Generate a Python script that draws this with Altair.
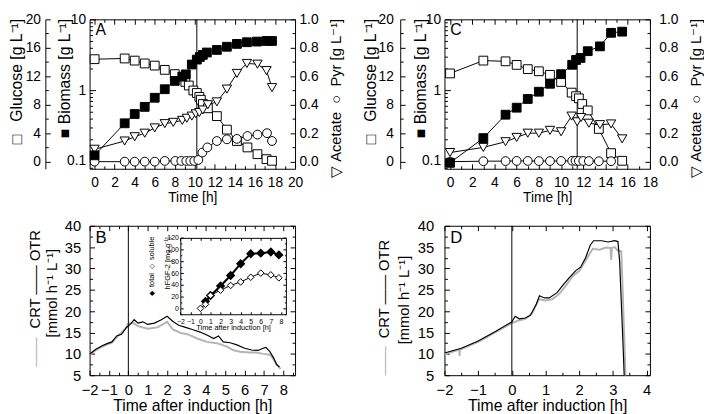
import altair as alt
import pandas as pd

# ---------------- Panel A (left batch) ----------------
A_glc_t = [0, 3, 4, 5, 6, 7, 8, 9.05, 9.4, 9.85, 10.2, 10.45, 10.6, 10.8, 11.3, 12.2, 13.2, 14.2, 15.25, 16.25, 17.15, 17.7]
A_glc = [14.4, 14.5, 14.2, 13.8, 13.5, 12.9, 12.3, 11.2, 10.7, 10.0, 9.65, 9.1, 8.7, 8.1, 7.5, 6.4, 4.5, 2.9, 2.0, 1.05, 0.35, 0.12]
A_bio_t = [0, 3, 4, 5, 6, 7, 8, 8.75, 9.1, 9.7, 10.2, 10.5, 10.8, 11.2, 12.2, 13.2, 14.2, 15.2, 16.2, 17.15, 17.7]
A_bio = [0.12, 0.34, 0.46, 0.58, 0.78, 1.03, 1.35, 1.55, 1.67, 2.3, 2.7, 2.94, 3.15, 3.4, 3.7, 4.1, 4.5, 4.75, 4.85, 4.95, 4.95]
A_ace_t = [0, 3, 4, 5, 6, 7, 7.85, 8.75, 9.2, 9.7, 10.1, 10.45, 10.8, 11.3, 12.2, 13.2, 14.2, 15.2, 16.25, 17.15, 17.7]
A_ace = [0.087, 0.145, 0.175, 0.2, 0.237, 0.267, 0.276, 0.29, 0.305, 0.32, 0.336, 0.345, 0.363, 0.40, 0.42, 0.51, 0.62, 0.69, 0.685, 0.64, 0.52]
A_pyr_t = [0, 3, 4, 5, 6, 7, 8.05, 8.65, 9.15, 9.55, 9.95, 10.35, 10.75, 11.25, 12.2, 13.2, 14.2, 15.25, 16.25, 17.2, 17.7]
A_pyr = [0, 0, 0, 0, 0, 0.005, 0.005, 0.005, 0.005, 0.005, 0.005, 0.012, 0.064, 0.10, 0.145, 0.157, 0.16, 0.18, 0.19, 0.20, 0.145]
A_induction = [10.2]

# ---------------- Panel C (right batch) ----------------
C_glc_t = [0, 3, 5, 6, 7, 8, 9, 10, 10.95, 11.35, 11.6, 11.9, 12.4, 13.4, 14.5, 15.5]
C_glc = [12.4, 14.2, 14.1, 13.6, 13.0, 12.7, 12.2, 11.2, 9.7, 9.2, 8.9, 8.1, 7.2, 4.6, 1.2, 0.12]
C_bio_t = [0, 3, 5, 6, 7, 8, 9, 10, 11, 11.35, 11.75, 12.4, 13.5, 14.5, 15.5]
C_bio = [0.094, 0.21, 0.45, 0.565, 0.75, 0.95, 1.23, 1.68, 2.28, 2.67, 2.85, 3.55, 4.15, 6.45, 6.7]
C_ace_t = [0, 3, 5, 6, 7, 8, 9, 10, 10.95, 11.45, 11.8, 12.5, 13.5, 14.5, 15.5]
C_ace = [0.064, 0.1, 0.14, 0.17, 0.2, 0.2, 0.22, 0.21, 0.32, 0.28, 0.31, 0.27, 0.26, 0.265, 0.16]
C_pyr_t = [0, 3, 5, 6, 7, 8, 9, 10, 11, 11.3, 11.6, 12.0, 12.5, 13.4, 14.5]
C_pyr = [0, 0.003, 0.004, 0.005, 0.005, 0.004, 0.004, 0.005, 0.006, 0.006, 0.005, 0.005, 0.004, 0.003, 0.003]
C_induction = [11.45]

# ---------------- Panel B (rates, left batch) ----------------
B_otr_t = [-2, -1.7, -1.35, -1.1, -0.85, -0.6, -0.35, -0.1, 0, 0.15, 0.3, 0.5, 0.75, 1.0, 1.35, 1.7, 2.0, 2.3, 2.6, 2.95, 3.3, 3.7, 4.05, 4.4, 4.65, 4.9, 5.25, 5.6, 6.0, 6.35, 6.7, 6.95, 7.1, 7.3, 7.5, 7.65, 7.8]
B_otr = [9.9, 11.0, 11.9, 12.4, 12.8, 14.2, 14.6, 16.2, 16.5, 17.2, 18.0, 17.2, 17.5, 16.9, 17.2, 18.0, 18.8, 17.6, 16.7, 16.2, 15.7, 15.1, 14.4, 13.6, 14.2, 12.8, 12.6, 12.1, 11.3, 10.9, 10.8, 11.3, 11.5, 10.5, 9.0, 7.5, 6.9]
B_crt_t = [-2, -1.7, -1.35, -1.1, -0.85, -0.5, -0.15, 0, 0.25, 0.5, 1.0, 1.5, 2.0, 2.3, 2.7, 3.05, 3.55, 4.05, 4.55, 5.1, 5.4, 5.75, 6.25, 6.6, 6.95, 7.3, 7.45, 7.65, 7.85]
B_crt = [9.8, 10.8, 11.7, 12.2, 12.6, 14.4, 15.9, 17.1, 17.2, 16.5, 15.9, 16.2, 17.5, 15.7, 14.9, 14.6, 13.6, 12.8, 12.5, 11.7, 10.9, 10.5, 10.3, 10.3, 10.0, 9.8, 9.0, 7.5, 6.5]
B_tot_t = [0.5, 1, 2, 3, 4, 5, 6, 7, 7.8]
B_tot = [12, 22, 38, 56, 76, 93, 94, 96, 91]
B_sol_t = [0, 0.5, 1, 2, 3, 4, 5, 6, 7, 7.8]
B_sol = [0, 7, 22, 31, 39, 45, 53, 60, 57, 52]

# ---------------- Panel D (rates, right batch) ----------------
D_otr_t = [-2, -1.5, -1, -0.5, 0, 0.1, 0.22, 0.4, 0.55, 0.73, 0.82, 0.97, 1.11, 1.35, 1.5, 1.7, 1.9, 2.04, 2.19, 2.33, 2.43, 2.67, 2.86, 3.05, 3.15, 3.2, 3.3, 3.34]
D_otr = [10.2, 11.3, 13.0, 15.2, 17.5, 18.8, 18.2, 18.4, 19.0, 21.7, 23.6, 23.1, 23.1, 24.4, 25.9, 27.8, 29.5, 30.3, 32.5, 35.5, 36.5, 36.5, 36.2, 36.5, 36.3, 31.7, 12.5, 4.0]
D_crt_t = [-2, -1.56, -1.55, -1.54, -1, -0.5, 0, 0.2, 0.4, 0.6, 0.8, 1.0, 1.2, 1.4, 1.6, 1.8, 2.0, 2.2, 2.4, 2.6, 2.8, 2.93, 2.95, 2.97, 3.05, 3.15, 3.25, 3.38]
D_crt = [9.9, 11.0, 9.5, 11.0, 12.8, 15.0, 17.2, 17.8, 18.2, 19.5, 22.8, 22.5, 22.8, 24.0, 25.9, 28.2, 29.4, 32.0, 34.6, 34.4, 34.9, 34.8, 32.0, 34.8, 35.0, 34.2, 34.0, 4.0]
B_induction = [0]
D_induction = [0]

# ---------------- tick labels ----------------
A_x_labels = list(range(0, 21, 2))
A_x_minor = list(range(0, 21))
C_x_labels = list(range(0, 19, 2))
C_x_minor = list(range(0, 19))
glucose_labels = [0, 4, 8, 12, 16, 20]
glucose_minor = list(range(0, 21, 2))
biomass_labels = [0.1, 1, 10]
biomass_minor = [0.08, 0.09] + [i / 10 for i in range(1, 10)] + list(range(1, 10)) + [10]
right_labels = [0.0, 0.2, 0.4, 0.6, 0.8, 1.0]
right_minor = [i / 10 for i in range(0, 11)]
rate_labels = [5, 10, 15, 20, 25, 30, 35, 40]
rate_minor = [5 + 2.5 * i for i in range(15)]
B_x_labels = list(range(-2, 9))
B_x_minor = [-2 + 0.5 * i for i in range(22)]
D_x_labels = list(range(-2, 5))
D_x_minor = [-2 + 0.5 * i for i in range(13)]
inset_x_labels = list(range(-2, 9))
inset_y_labels = list(range(0, 121, 20))
inset_y_minor = list(range(-10, 121, 10))

FONT = "Liberation Sans"
BLACK = "black"
GRAY = "#b4b4b4"
W, H = 209, 152
NB = "\u00a0"
SUP = "\u207b\u00b9"


def tick_axis(orient, offset, values, test=None, major=5, minor=3, domain=False):
    size = major if test is None else {"condition": {"test": test, "value": major}, "value": minor}
    return alt.Axis(orient=orient, offset=offset, values=values, labels=False, domain=domain,
                    domainColor=BLACK, ticks=True, tickSize=size, tickColor=BLACK, tickWidth=1,
                    grid=False, title=None)


def ghost_title_axis(text, tx, ty, align, color=BLACK, size=15, offset=0):
    return alt.Axis(orient="left", offset=offset, labels=False, ticks=False, domain=False, grid=False,
                    title=text, titleX=tx, titleY=ty, titleAngle=270, titleAlign=align,
                    titleBaseline="middle", titleColor=color, titleFontSize=size)


def growth_panel(letter, xdom, xlabels, xminor, induction, glc_t, glc, bio_t, bio, ace_t, ace, pyr_t, pyr,
                 gpad, bpad, rpad, gtx, btx, rtx):
    xs = alt.Scale(domain=xdom, nice=False, zero=False)
    sg = alt.Scale(domain=[-1, 20], nice=False, zero=False)
    sb = alt.Scale(type="log", domain=[0.0775, 10], nice=False)
    sr = alt.Scale(domain=[-0.05, 1.0], nice=False, zero=False)

    def X(axis):
        return alt.X("t:Q", scale=xs, axis=axis)

    d_glc = pd.DataFrame({"t": glc_t, "v": glc})
    d_bio = pd.DataFrame({"t": bio_t, "v": bio})
    d_ace = pd.DataFrame({"t": ace_t, "v": ace})
    d_pyr = pd.DataFrame({"t": pyr_t, "v": pyr})

    x_lab = alt.Axis(orient="bottom", values=xlabels, ticks=False, domain=False, labelPadding=7,
                     title="Time [h]", titlePadding=1, format="d", labelFlush=False)
    even = "datum.value % 2 === 0"
    x_bot = tick_axis("top", -H, xminor, even, 5, 3)
    x_top = tick_axis("bottom", -H, xminor, even, 5, 3)

    g_lab = alt.Axis(orient="left", offset=45, values=glucose_labels, ticks=False, domain=True,
                     domainColor=BLACK, labelPadding=gpad,
                     title="\u25a1" + NB * 3 + "Glucose [g L" + SUP + "]", titleAngle=270, titleFontSize=16,
                     titleAlign="right", titleBaseline="middle", titleX=gtx, titleY=-1)
    g_tick = tick_axis("right", -(W + 45), glucose_minor, "datum.value % 4 === 0", 5, 3)

    logtest = "abs(log(datum.value)/LN10 - round(log(datum.value)/LN10)) < 0.001"
    b_lab = alt.Axis(orient="left", offset=0, values=biomass_labels, ticks=False, domain=False,
                     labelPadding=bpad, format="~g",
                     title="\u25a0" + NB + "Biomass [g L" + SUP + "]", titleAngle=270, titleFontSize=16,
                     titleAlign="right", titleBaseline="middle", titleX=btx, titleY=-1)
    b_tick = tick_axis("right", -W, biomass_minor, logtest, 6, 3)

    r_lab = alt.Axis(orient="right", values=right_labels, ticks=False, domain=False, labelPadding=rpad,
                     format=".1f",
                     title="\u25bd" + NB + "Acetate" + NB * 2 + "\u25cb" + NB * 2 + "Pyr [g L" + SUP + "]",
                     titleAngle=270, titleFontSize=15,
                     titleAlign="right", titleBaseline="middle", titleX=rtx, titleY=-1)
    r_tick = tick_axis("left", -W, right_minor, "abs(datum.value*5 - round(datum.value*5)) < 0.001", 5, 3)

    pt = dict(filled=True, opacity=1, strokeWidth=1, stroke=BLACK)

    glc_line = alt.Chart(d_glc).mark_line(color=BLACK, strokeWidth=1).encode(
        x=X(x_lab), y=alt.Y("v:Q", scale=sg, axis=g_lab))
    glc_pts = alt.Chart(d_glc).mark_point(shape="square", size=80, fill="white", **pt).encode(
        x=X(x_bot), y=alt.Y("v:Q", scale=sg, axis=g_tick))
    glc_grp = alt.layer(glc_line, glc_pts).resolve_axis(x="independent", y="independent")

    bio_line = alt.Chart(d_bio).mark_line(color=BLACK, strokeWidth=1).encode(
        x=X(x_top), y=alt.Y("v:Q", scale=sb, axis=b_lab))
    bio_pts = alt.Chart(d_bio).mark_point(shape="square", size=80, fill=BLACK, **pt).encode(
        x=X(None), y=alt.Y("v:Q", scale=sb, axis=b_tick))
    bio_grp = alt.layer(bio_line, bio_pts).resolve_axis(x="independent", y="independent")

    ace_line = alt.Chart(d_ace).mark_line(color=BLACK, strokeWidth=1).encode(
        x=X(None), y=alt.Y("v:Q", scale=sr, axis=r_lab))
    pyr_line = alt.Chart(d_pyr).mark_line(color=BLACK, strokeWidth=1).encode(
        x=X(None), y=alt.Y("v:Q", scale=sr, axis=r_tick))
    ace_pts = alt.Chart(d_ace).mark_point(shape="triangle-down", size=90, fill="white", **pt).encode(
        x=X(None), y=alt.Y("v:Q", scale=sr, axis=None))
    pyr_pts = alt.Chart(d_pyr).mark_point(shape="circle", size=80, fill="white", **pt).encode(
        x=X(None), y=alt.Y("v:Q", scale=sr, axis=None))
    r_grp = alt.layer(ace_line, pyr_line, ace_pts, pyr_pts).resolve_axis(x="independent", y="independent")

    rule = alt.Chart(pd.DataFrame({"t": induction})).mark_rule(color=BLACK, strokeWidth=1).encode(x=X(None))

    return alt.layer(rule, glc_grp, r_grp, bio_grp).resolve_scale(y="independent").resolve_axis(
        x="independent", y="independent").properties(
        width=W, height=H,
        title=alt.TitleParams(text=letter, anchor="start", frame="group", offset=-26, dx=6,
                              fontSize=16, fontWeight="normal", font=FONT, color=BLACK))


def rate_panel(letter, xdom, xlabels, xminor, induction, otr_t, otr, crt_t, crt, ypad, tx1, tx2, y_crt, y_gray,
               y_mm, inset=None):
    xs = alt.Scale(domain=xdom, nice=False, zero=False)
    ys = alt.Scale(domain=[5, 40], nice=False, zero=False)

    def X(axis):
        return alt.X("t:Q", scale=xs, axis=axis)

    def Y(axis):
        return alt.Y("v:Q", scale=ys, axis=axis)

    d_otr = pd.DataFrame({"t": otr_t, "v": otr})
    d_crt = pd.DataFrame({"t": crt_t, "v": crt})

    x_lab = alt.Axis(orient="bottom", values=xlabels, ticks=False, domain=False, labelPadding=8,
                     title="Time after induction [h]", titlePadding=0, format="d", labelFontSize=15,
                     titleFontSize=16, labelFlush=False)
    integer = "datum.value % 1 === 0"
    x_bot = tick_axis("top", -H, xminor, integer, 5, 3)
    x_top = tick_axis("bottom", -H, xminor, integer, 5, 3)
    y_lab = alt.Axis(orient="left", values=rate_labels, ticks=False, domain=False, labelPadding=ypad,
                     labelFontSize=15, title="[mmol h" + SUP + " L" + SUP + "]", titleFontSize=15,
                     titleAngle=270, titleAlign="center", titleBaseline="middle", titleX=tx2, titleY=y_mm)
    five = "datum.value % 5 === 0"
    y_left = tick_axis("right", -W, rate_minor, five, 5, 3)
    y_right = tick_axis("left", -W, rate_minor, five, 5, 3)
    t_crt = ghost_title_axis("CRT \u2014\u2014 OTR", tx1, y_crt, "left")
    t_gray = ghost_title_axis("\u2014\u2014", tx1, y_gray, "left", color=GRAY)

    crt_line = alt.Chart(d_crt).mark_line(color=GRAY, strokeWidth=2, clip=True).encode(x=X(x_lab), y=Y(y_lab))
    otr_line = alt.Chart(d_otr).mark_line(color=BLACK, strokeWidth=1.2, clip=True).encode(x=X(x_bot), y=Y(y_left))
    ghost1 = alt.Chart(d_otr).mark_line(opacity=0, clip=True).encode(x=X(x_top), y=Y(y_right))
    ghost2 = alt.Chart(d_otr).mark_line(opacity=0, clip=True).encode(x=X(None), y=Y(t_crt))
    ghost3 = alt.Chart(d_otr).mark_line(opacity=0, clip=True).encode(x=X(None), y=Y(t_gray))
    rule = alt.Chart(pd.DataFrame({"t": induction})).mark_rule(color=BLACK, strokeWidth=1).encode(x=X(None))
    main = alt.layer(crt_line, otr_line, ghost1, ghost2, ghost3, rule).resolve_axis(
        x="independent", y="independent")

    layers = [main]
    if inset is not None:
        tot_t, tot, sol_t, sol = inset
        L, R, T, Bt = 92.3, 199.7, 12.3, 90
        ixs = alt.Scale(domain=[-2, 8.5], range=[L, R], nice=False, zero=False)
        iys = alt.Scale(domain=[-10, 120], range=[Bt, T], nice=False, zero=False)

        def IX(axis):
            return alt.X("t:Q", scale=ixs, axis=axis)

        def IY(axis):
            return alt.Y("v:Q", scale=iys, axis=axis)

        ix_lab = alt.Axis(orient="bottom", offset=Bt - H, values=inset_x_labels, ticks=False, domain=True,
                          domainColor=BLACK, labelPadding=3, labelFontSize=7, format="d",
                          title="Time after induction [h]", titleFontSize=7.5, titlePadding=0, labelFlush=False)
        ix_bot = tick_axis("top", -Bt, inset_x_labels, None, 2.5)
        ix_top = tick_axis("bottom", T - H, inset_x_labels, None, 2.5, domain=True)
        iy_lab = alt.Axis(orient="left", offset=-L, values=inset_y_labels, ticks=False, domain=True,
                          domainColor=BLACK, labelPadding=2, labelFontSize=7,
                          title="hFGF-2 [mg g" + SUP + "]", titleFontSize=7.5, titleAngle=270,
                          titleAlign="right", titleBaseline="middle", titleX=-13.5, titleY=11)
        iy_left = tick_axis("right", L - W, inset_y_minor, "datum.value % 20 === 0", 3, 1.5)
        iy_right = tick_axis("left", -R, inset_y_minor, "datum.value % 20 === 0", 3, 1.5, domain=True)
        iy_leg = ghost_title_axis("\u25c6" + NB * 2 + "total" + NB * 2 + "\u25c7" + NB * 2 + "soluble",
                                  -29.5, 71, "left", size=7.5, offset=-L)

        d_tot = pd.DataFrame({"t": tot_t, "v": tot})
        d_sol = pd.DataFrame({"t": sol_t, "v": sol})
        tot_line = alt.Chart(d_tot).mark_line(color=BLACK, strokeWidth=2).encode(x=IX(ix_lab), y=IY(iy_lab))
        sol_line = alt.Chart(d_sol).mark_line(color=BLACK, strokeWidth=1).encode(x=IX(ix_top), y=IY(iy_right))
        tot_pts = alt.Chart(d_tot).mark_point(shape="diamond", size=45, filled=True, fill=BLACK, stroke=BLACK,
                                              opacity=1).encode(x=IX(ix_bot), y=IY(iy_left))
        sol_pts = alt.Chart(d_sol).mark_point(shape="diamond", size=45, filled=True, fill="white", stroke=BLACK,
                                              strokeWidth=1, opacity=1).encode(x=IX(None), y=IY(iy_leg))
        ins = alt.layer(tot_line, sol_line, tot_pts, sol_pts).resolve_axis(x="independent", y="independent")
        layers.append(ins)

    ch = alt.layer(*layers)
    if inset is not None:
        ch = ch.resolve_scale(x="independent", y="independent")
    return ch.resolve_axis(x="independent", y="independent").properties(
        width=W, height=H,
        title=alt.TitleParams(text=letter, anchor="start", frame="group", offset=-29, dx=6,
                              fontSize=17, fontWeight="normal", font=FONT, color=BLACK))


A = growth_panel("A", [-0.5, 20], A_x_labels, A_x_minor, A_induction, A_glc_t, A_glc, A_bio_t, A_bio,
                 A_ace_t, A_ace, A_pyr_t, A_pyr, gpad=5, bpad=4, rpad=4, gtx=-29, btx=-25, rtx=41)
C = growth_panel("C", [-0.5, 18], C_x_labels, C_x_minor, C_induction, C_glc_t, C_glc, C_bio_t, C_bio,
                 C_ace_t, C_ace, C_pyr_t, C_pyr, gpad=7, bpad=4, rpad=9, gtx=-30, btx=-24, rtx=46)
B = rate_panel("B", [-2, 8.6], B_x_labels, B_x_minor, B_induction, B_otr_t, B_otr, B_crt_t, B_crt, ypad=9,
               tx1=-56, tx2=-39, y_crt=104, y_gray=143, y_mm=68,
               inset=(B_tot_t, B_tot, B_sol_t, B_sol))
D = rate_panel("D", [-2, 4.1], D_x_labels, D_x_minor, D_induction, D_otr_t, D_otr, D_crt_t, D_crt, ypad=11,
               tx1=-62, tx2=-42, y_crt=114, y_gray=152, y_mm=75)

chart = alt.concat(A, C, B, D, columns=2, spacing={"row": 58, "column": 152}, bounds="flush").properties(
    padding=0
).configure(font=FONT).configure_view(stroke=BLACK, strokeWidth=1).configure_axis(
    labelFont=FONT, titleFont=FONT, labelFontSize=14, titleFontSize=14, labelColor=BLACK, titleColor=BLACK,
    titleFontWeight="normal", grid=False, domainColor=BLACK, tickColor=BLACK
)

chart.save("out.html", embed_options={"renderer": "svg", "actions": False})
